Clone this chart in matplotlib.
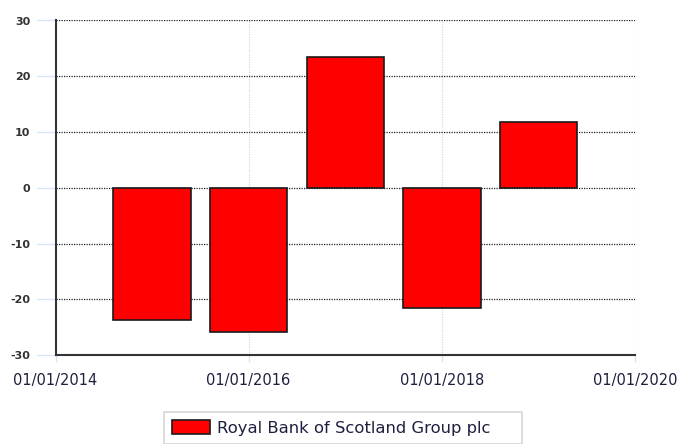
import matplotlib
matplotlib.use("Agg")
import matplotlib.pyplot as plt
import matplotlib.dates as mdates
import datetime as dt

plt.rcParams["axes.unicode_minus"] = False

dates = [dt.date(2015, 1, 1), dt.date(2016, 1, 1), dt.date(2017, 1, 1),
         dt.date(2018, 1, 1), dt.date(2019, 1, 1)]
values = [-23.7, -25.8, 23.5, -21.6, 11.8]
series_name = "Royal Bank of Scotland Group plc"
x_ticks = [dt.date(2014, 1, 1), dt.date(2016, 1, 1), dt.date(2018, 1, 1), dt.date(2020, 1, 1)]
y_ticks = [-30, -20, -10, 0, 10, 20, 30]

fig = plt.figure(figsize=(6.78, 4.44), dpi=100)
ax = fig.add_axes([55.5/678, 1-355/444, (635-55.5)/678, (355-20.5)/444])

ax.bar(dates, values, width=292, color="#ff0000", edgecolor="#1a1a1a",
       linewidth=1.2, zorder=3, label=series_name)

ax.set_xlim(dt.date(2014, 1, 1), dt.date(2020, 1, 1))
ax.set_ylim(-30, 30)
ax.set_yticks(y_ticks)
ax.set_xticks(x_ticks)
ax.xaxis.set_major_formatter(mdates.DateFormatter("%d/%m/%Y"))

for yv in y_ticks[1:]:
    ax.axhline(yv, color="#222222", linestyle=(0, (1, 1)), linewidth=0.9, zorder=1)
for xv in x_ticks[1:]:
    ax.axvline(xv, color="#c8dcf0", linestyle=(0, (1, 1)), linewidth=0.9, zorder=0.5)

for s in ["top", "right"]:
    ax.spines[s].set_visible(False)
for s in ["left", "bottom"]:
    ax.spines[s].set_color("#333333")
    ax.spines[s].set_linewidth(1.5)
    ax.spines[s].set_zorder(4)

ax.tick_params(axis="y", length=14, width=1, color="#d6e6f6", pad=4,
               labelsize=8, labelcolor="#333333")
for lab in ax.get_yticklabels():
    lab.set_fontweight("bold")
ax.tick_params(axis="x", length=5, width=1, color="#d6e6f6", pad=8,
               labelsize=10.5, labelcolor="#1f2040")

h = 0.05
leg = fig.legend(loc="upper left", mode="expand",
                 bbox_to_anchor=(164/678, 1-412/444 - h, (522-164)/678, h),
                 frameon=True, fancybox=False, fontsize=11.8,
                 handlelength=2.3, handleheight=0.9, borderpad=0.5,
                 handletextpad=0.45, borderaxespad=0)
leg.get_frame().set_edgecolor("#cccccc")
leg.get_frame().set_linewidth(1.2)
for t in leg.get_texts():
    t.set_color("#1f2040")

fig.savefig("out.png", dpi=100)
